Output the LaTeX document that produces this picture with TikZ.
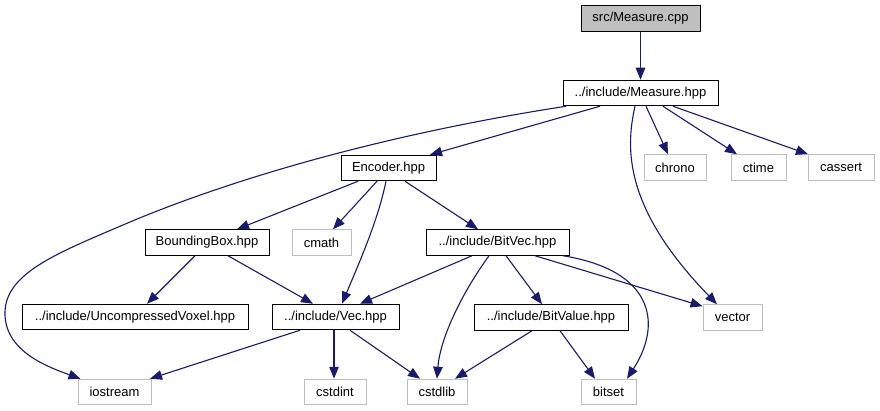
\documentclass[tikz,border=0pt]{standalone}
\usepackage{fontspec}
\setmainfont{Liberation Sans}
\usetikzlibrary{arrows.meta}
\definecolor{edgeblue}{HTML}{191970}
\definecolor{lgray}{HTML}{BFBFBF}
\tikzset{
  box/.style={draw=black, line width=1pt, minimum height=25.5pt, inner sep=0pt, font=\fontsize{13}{15}\selectfont, fill=white},
  sysbox/.style={draw=lgray, line width=1pt, minimum height=25.5pt, inner sep=0pt, font=\fontsize{13}{15}\selectfont, fill=white},
  rootbox/.style={box, fill=lgray},
  edge/.style={draw=edgeblue, line width=1.1pt, -{Triangle[length=12pt,width=9.5pt]}},
}
\begin{document}
\begin{tikzpicture}[x=1pt,y=-1pt]
\useasboundingbox (0,0) rectangle (880,411);
% nodes
\node[rootbox, minimum width=119pt] (cpp) at (640.5,18.5) {src/Measure.cpp};
\node[box, minimum width=155pt] (mh) at (640.5,93) {../include/Measure.hpp};
\node[box, minimum width=95pt] (enc) at (388.5,168) {Encoder.hpp};
\node[sysbox, minimum width=62pt] (chrono) at (675,167.5) {chrono};
\node[sysbox, minimum width=55pt] (ctime) at (758.5,167.5) {ctime};
\node[sysbox, minimum width=66pt] (cassert) at (841,167.5) {cassert};
\node[box, minimum width=124pt] (bb) at (207,242.5) {BoundingBox.hpp};
\node[sysbox, minimum width=59pt] (cmath) at (321.5,242.5) {cmath};
\node[box, minimum width=143pt] (bv) at (497.5,242.5) {../include/BitVec.hpp};
\node[box, minimum width=226pt] (uv) at (135,317) {../include/UncompressedVoxel.hpp};
\node[box, minimum width=127pt] (vec) at (335.5,317) {../include/Vec.hpp};
\node[box, minimum width=154pt] (bval) at (551,317.5) {../include/BitValue.hpp};
\node[sysbox, minimum width=59pt] (vector) at (732.5,317.5) {vector};
\node[sysbox, minimum width=73pt] (iostream) at (114.5,392) {iostream};
\node[sysbox, minimum width=62pt] (cstdint) at (335,392) {cstdint};
\node[sysbox, minimum width=60pt] (cstdlib) at (437,392) {cstdlib};
\node[sysbox, minimum width=55pt] (bitset) at (608.5,392) {bitset};
% edges
\draw[edge] (cpp.south) -- (mh.north);
\draw[edge] ([xshift=-40.5pt]mh.south) -- ([xshift=41.5pt]enc.north);
\draw[edge] ([xshift=-74.5pt]mh.south) .. controls (380,135) and (230,180) .. (130,222)
  .. controls (60,252) and (6,272) .. (5,312)
  .. controls (4,350) and (45,366) .. ([xshift=-34pt]iostream.north);
\draw[edge] ([xshift=5.5pt]mh.south) -- ([xshift=-7pt]chrono.north);
\draw[edge] ([xshift=22.5pt]mh.south) -- ([xshift=-21.5pt]ctime.north);
\draw[edge] ([xshift=32.5pt]mh.south) -- ([xshift=-33pt]cassert.north);
\draw[edge] ([xshift=-5.5pt]mh.south) .. controls +(-10,44) and +(-92,-95) .. ([xshift=-15.5pt]vector.north);
\draw[edge] ([xshift=-30.5pt]enc.south) -- ([xshift=30pt]bb.north);
\draw[edge] ([xshift=-11.5pt]enc.south) -- ([xshift=11.5pt]cmath.north);
\draw[edge] ([xshift=-2.5pt]enc.south) .. controls +(-8,39) and +(18,-43) .. ([xshift=6.5pt]vec.north);
\draw[edge] ([xshift=16.5pt]enc.south) -- ([xshift=-19.5pt]bv.north);
\draw[edge] ([xshift=-12pt]bb.south) -- ([xshift=12pt]uv.north);
\draw[edge] ([xshift=21pt]bb.south) -- ([xshift=-22.5pt]vec.north);
\draw[edge] ([xshift=-25.5pt]bv.south) -- ([xshift=24.5pt]vec.north);
\draw[edge] ([xshift=-8.5pt]bv.south) .. controls +(-29,40) and +(3,-39) .. (cstdlib.north);
\draw[edge] ([xshift=8.5pt]bv.south) -- ([xshift=-9pt]bval.north);
\draw[edge] ([xshift=37.5pt]bv.south) -- ([yshift=-2pt]vector.north west);
\draw[edge] ([xshift=65.5pt]bv.south) .. controls +(92,15) and +(35,-54) .. ([xshift=18.5pt]bitset.north);
\draw[edge] ([xshift=-35.5pt]vec.south) -- ([xshift=35.5pt]iostream.north);
\draw[edge] ([xshift=-1.5pt]vec.south) -- ([xshift=-1pt]cstdint.north);
\draw[edge] ([xshift=14.5pt]vec.south) -- ([xshift=-17pt]cstdlib.north);
\draw[edge] ([xshift=-19pt]bval.south) -- ([xshift=18pt]cstdlib.north);
\draw[edge] ([xshift=9pt]bval.south) -- ([xshift=-13.5pt]bitset.north);
\end{tikzpicture}
\end{document}
